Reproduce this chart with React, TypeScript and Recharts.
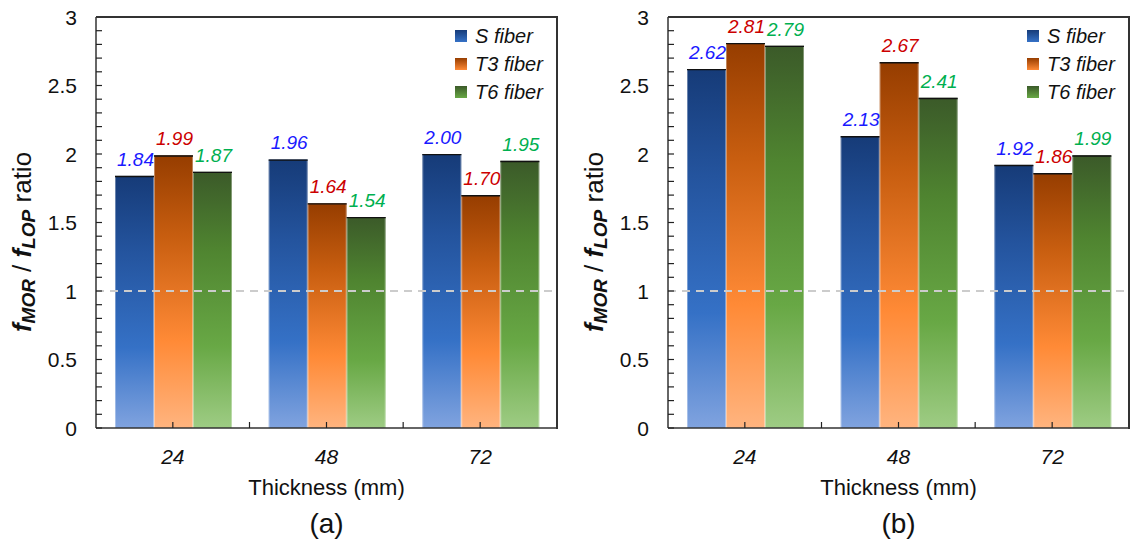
import React from 'react';
import { BarChart, Bar, XAxis, YAxis, ReferenceLine, LabelList } from 'recharts';

const thickness = ['24', '48', '72'];
const sFiberA = [1.84, 1.96, 2.0];
const t3FiberA = [1.99, 1.64, 1.7];
const t6FiberA = [1.87, 1.54, 1.95];
const sFiberB = [2.62, 2.13, 1.92];
const t3FiberB = [2.81, 2.67, 1.86];
const t6FiberB = [2.79, 2.41, 1.99];
const majorTicks = [0, 0.5, 1, 1.5, 2, 2.5, 3];
const yTicks = Array.from({ length: 31 }, (_, i) => Math.round(i) / 10);

const FONT = '"Liberation Sans", Arial, Helvetica, sans-serif';
const BAND = 154;
const PLOT_LEFT = 96;
const PLOT_TOP = 17;
const PLOT_BOTTOM = 428;

const series = [
    { key: 's', name: 'S fiber', label: '#1a1aff', stops: ['#163b78', '#24549e', '#3571c6', '#80a3df'] },
    { key: 't3', name: 'T3 fiber', label: '#cc0000', stops: ['#963d00', '#c85e10', '#ff8a36', '#ffb47f'] },
    { key: 't6', name: 'T6 fiber', label: '#00b050', stops: ['#3b5a29', '#4f8430', '#68a845', '#9ecc84'] }
];

const buildRows = (s: number[], t3: number[], t6: number[]) =>
    thickness.map((t, i) => ({ thickness: t, s: s[i], t3: t3[i], t6: t6[i] }));

const dataA = buildRows(sFiberA, t3FiberA, t6FiberA);
const dataB = buildRows(sFiberB, t3FiberB, t6FiberB);

const YTick = ({ x, y, payload }: any) => {
    const v = payload.value;
    const major = majorTicks.some((m) => Math.abs(m - v) < 1e-6);
    return (
        <g>
            <line x1={x} x2={x + 6} y1={y} y2={y} stroke="#222" strokeWidth={1.2} />
            {major && (
                <text x={x - 19} y={y} textAnchor="end" dominantBaseline="central" fontSize={21} fill="#111" fontFamily={FONT}>
                    {String(v)}
                </text>
            )}
        </g>
    );
};

const XTick = ({ x, y, payload, index }: any) => (
    <g>
        <line x1={x} x2={x} y1={y} y2={y - 6} stroke="#222" strokeWidth={1.2} />
        {index > 0 && <line x1={x - BAND / 2} x2={x - BAND / 2} y1={y} y2={y - 6} stroke="#222" strokeWidth={1.2} />}
        <text x={x} y={y + 28} textAnchor="middle" dominantBaseline="central" fontSize={21} fontStyle="italic" fill="#111" fontFamily={FONT}>
            {payload.value}
        </text>
    </g>
);

const FiberBar = ({ x, y, width, height, gradId }: any) => {
    if (!height || height <= 0) return null;
    return (
        <g>
            <rect x={x} y={y} width={width} height={height} fill={`url(#${gradId})`} />
            <line x1={x + 0.5} x2={x + 0.5} y1={y} y2={y + height} stroke="rgba(255,255,255,0.35)" strokeWidth={1} />
            <line x1={x + width - 0.5} x2={x + width - 0.5} y1={y} y2={y + height} stroke="rgba(255,255,255,0.35)" strokeWidth={1} />
            <line x1={x} x2={x + width} y1={y + 0.6} y2={y + 0.6} stroke="#111" strokeWidth={1.4} />
        </g>
    );
};

const valueLabel = (color: string) => ({ x, y, width, value }: any) => (
    <text x={x + width / 2 + 1} y={y - 10} textAnchor="middle" fontSize={19} fontStyle="italic" fill={color} fontFamily={FONT}>
        {Number(value).toFixed(2)}
    </text>
);

const YTitle = () => {
    const cx = 22;
    const cy = 242;
    return (
        <text
            x={cx}
            y={cy}
            transform={`rotate(-90, ${cx}, ${cy})`}
            textAnchor="middle"
            dominantBaseline="central"
            fontSize={26}
            fill="#111"
            fontFamily={FONT}
        >
            <tspan fontWeight="bold" fontStyle="italic">f</tspan>
            <tspan fontWeight="bold" fontStyle="italic" fontSize={19} dy={6}>MOR</tspan>
            <tspan dy={-6}> / </tspan>
            <tspan fontWeight="bold" fontStyle="italic">f</tspan>
            <tspan fontWeight="bold" fontStyle="italic" fontSize={19} dy={6}>LOP</tspan>
            <tspan dy={-6}> ratio</tspan>
        </text>
    );
};

const XTitle = (tag: string) => ({ viewBox }: any) => {
    const cx = viewBox.x + viewBox.width / 2;
    const top = viewBox.y;
    return (
        <g fontFamily={FONT} fill="#111">
            <text x={cx} y={top + 59} textAnchor="middle" dominantBaseline="central" fontSize={22}>
                Thickness (mm)
            </text>
            <text x={cx} y={top + 95} textAnchor="middle" dominantBaseline="central" fontSize={28}>
                {tag}
            </text>
        </g>
    );
};

const LegendBox = () => (
    <div style={{ position: 'absolute', left: 455, top: 22, fontFamily: FONT }}>
        {series.map((s) => (
            <div key={s.key} style={{ display: 'flex', alignItems: 'center', height: 28 }}>
                <span
                    style={{
                        display: 'inline-block',
                        width: 12,
                        height: 12,
                        marginRight: 8,
                        background: `linear-gradient(${s.stops[0]}, ${s.stops[2]})`
                    }}
                />
                <span style={{ fontSize: 20, fontStyle: 'italic', color: '#111' }}>{s.name}</span>
            </div>
        ))}
    </div>
);

function Panel({ data, tag, id, left, width, right }: any) {
    return (
        <div style={{ position: 'absolute', left, top: 0, width, height: 544 }}>
            <BarChart
                width={width}
                height={544}
                data={data}
                margin={{ top: PLOT_TOP, right, left: 36, bottom: 86 }}
                barCategoryGap={19}
                barGap={0}
            >
                <defs>
                    {series.map((s) => (
                        <linearGradient key={s.key} id={`${id}-${s.key}`} x1="0" y1="0" x2="0" y2="1">
                            <stop offset="0%" stopColor={s.stops[0]} />
                            <stop offset="30%" stopColor={s.stops[1]} />
                            <stop offset="68%" stopColor={s.stops[2]} />
                            <stop offset="100%" stopColor={s.stops[3]} />
                        </linearGradient>
                    ))}
                </defs>
                <XAxis
                    dataKey="thickness"
                    height={30}
                    interval={0}
                    tickSize={0}
                    tickMargin={0}
                    tick={<XTick />}
                    axisLine={{ stroke: '#333', strokeWidth: 1.5 }}
                    label={{ content: XTitle(tag) } as any}
                />
                <YAxis
                    domain={[0, 3]}
                    ticks={yTicks}
                    interval={0}
                    width={60}
                    tickSize={0}
                    tickMargin={0}
                    tick={<YTick />}
                    axisLine={{ stroke: '#333', strokeWidth: 1.5 }}
                    label={{ content: <YTitle /> } as any}
                />
                {series.map((s) => (
                    <Bar
                        key={s.key}
                        dataKey={s.key}
                        name={s.name}
                        isAnimationActive={false}
                        shape={(p: any) => <FiberBar {...p} gradId={`${id}-${s.key}`} />}
                    >
                        <LabelList dataKey={s.key} content={valueLabel(s.label)} />
                    </Bar>
                ))}
                <ReferenceLine y={1} stroke="#cccccc" strokeWidth={2} strokeDasharray="8 6" />
                <ReferenceLine y={3} stroke="#333" strokeWidth={2} />
            </BarChart>
            {/* top and right edges of the plot frame */}
            <div
                style={{
                    position: 'absolute',
                    left: PLOT_LEFT,
                    top: PLOT_TOP - 1,
                    width: width - right - PLOT_LEFT + 1,
                    height: PLOT_BOTTOM - PLOT_TOP + 2,
                    boxSizing: 'border-box',
                    borderTop: '2px solid #333',
                    borderRight: '2px solid #333',
                    pointerEvents: 'none'
                }}
            />
            <LegendBox />
        </div>
    );
}

export default function App() {
    return (
        <div
            style={{
                position: 'absolute',
                left: 0,
                top: 0,
                width: 1131,
                height: 544,
                background: '#fff',
                overflow: 'hidden'
            }}
        >
            <Panel data={dataA} tag="(a)" id="ga" left={0} width={565} right={8} />
            <Panel data={dataB} tag="(b)" id="gb" left={572} width={559} right={2} />
        </div>
    );
}
